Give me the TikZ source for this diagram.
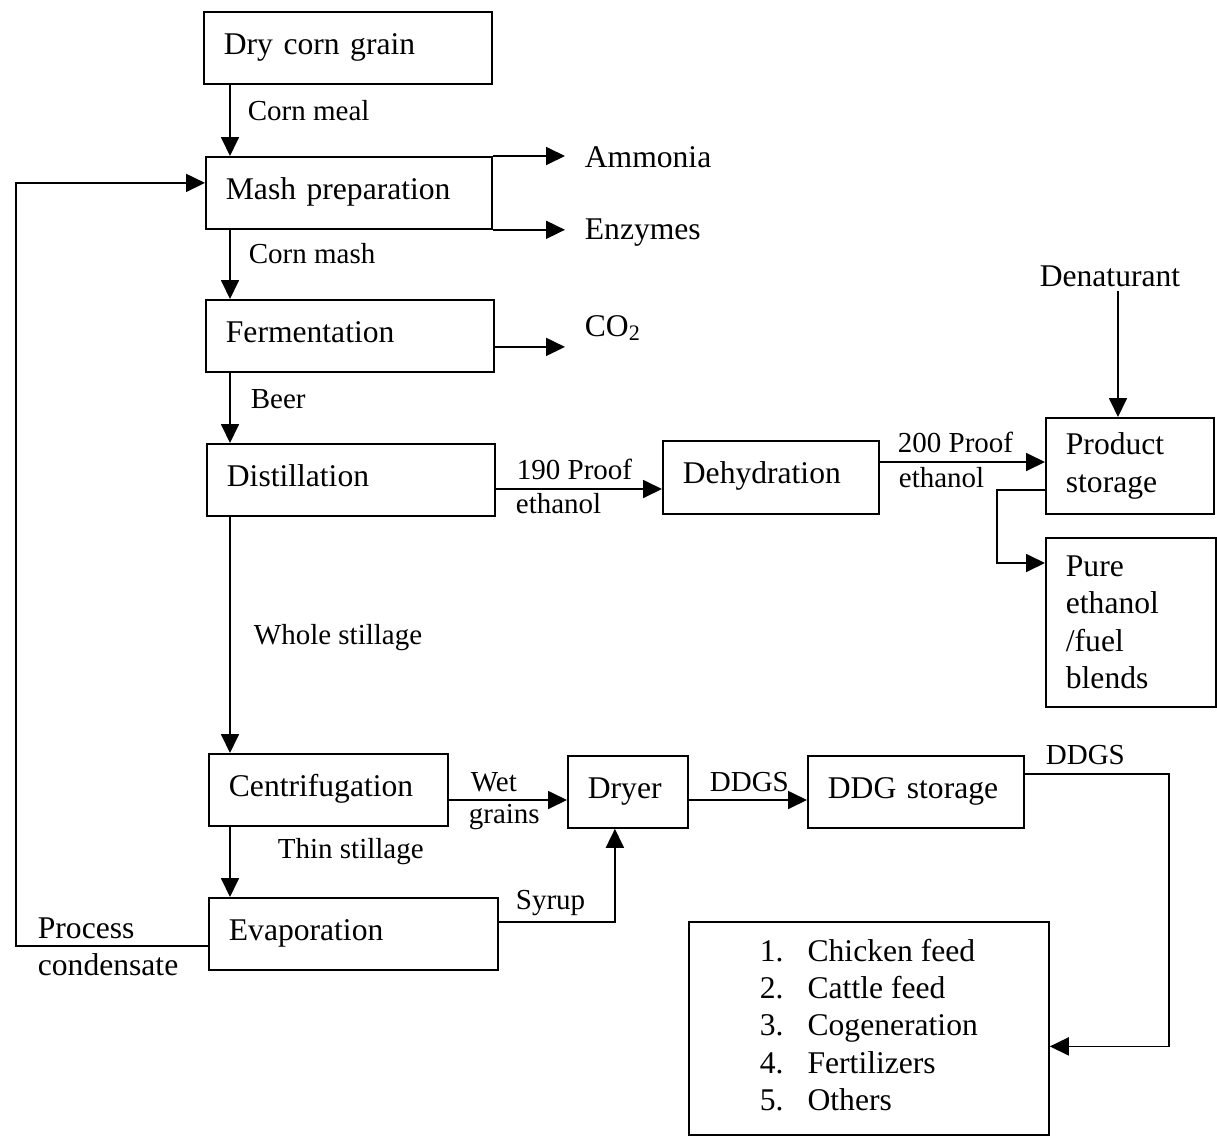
\documentclass[tikz,border=0pt]{standalone}
\usepackage{fontspec}
\setmainfont{Liberation Serif}
\usetikzlibrary{arrows.meta}
\newcommand{\boxfont}{\fontsize{15.8}{18.7}\selectfont}
\newcommand{\labfont}{\fontsize{14.5}{17}\selectfont}
\begin{document}
\begin{tikzpicture}[x=0.5pt,y=-0.5pt,>={Triangle[length=9.5pt,width=9pt]},line width=0.9pt,
 stage/.style={draw,anchor=north west,align=left,inner xsep=10pt,inner ysep=0pt,minimum height=36pt,font=\boxfont,text width=#1},
 oneline/.style={text height=11pt,text depth=4.6pt},
 lab/.style={anchor=west,inner sep=0pt,font=\labfont},
 outlab/.style={anchor=west,inner sep=0pt,font=\boxfont}]
\useasboundingbox (0,0) rectangle (1217,1136);
\coordinate (spine) at (230,0);
% main column
\node[stage=124pt,oneline] (dry) at (203,11) {Dry corn grain};
\node[stage=123pt,oneline] (mash) at (205,156) {Mash preparation};
\node[stage=124pt,oneline] (ferm) at (205,299) {Fermentation};
\node[stage=124pt,oneline] (dist) at (206,443) {Distillation};
\node[stage=99.5pt,oneline] (centri) at (208,753) {Centrifugation};
\node[stage=124.5pt,oneline] (evap) at (208,897) {Evaporation};
\draw[->] (spine |- dry.south) -- (spine |- mash.north);
\draw[->] (spine |- mash.south) -- (spine |- ferm.north);
\draw[->] (spine |- ferm.south) -- (spine |- dist.north);
\draw[->] (spine |- dist.south) -- (spine |- centri.north);
\draw[->] (spine |- centri.south) -- (spine |- evap.north);
\node[lab] (meal) at (247,111) {Corn meal};
\node[lab] (cmash) at (248,254) {Corn mash};
\node[lab] (beer) at (250,399) {Beer};
\node[lab] (whole) at (253,638) {Whole stillage};
\node[lab] (thin) at (277,852) {Thin stillage};
% side streams
\node[outlab] (ammonia) at (584,157) {Ammonia};
\node[outlab] (enzymes) at (584,233) {Enzymes};
\node[outlab] (co2) at (584,328) {CO\textsubscript{2}};
\coordinate (co2in) at ([yshift=-5.5pt]ferm.east);
\draw[->,shorten >=9.5pt] (mash.north east) -- (mash.north east -| ammonia.west);
\draw[->,shorten >=9.5pt] (mash.south east) -- (mash.south east -| enzymes.west);
\draw[->,shorten >=9.5pt] (co2in) -- (co2in -| co2.west);
% ethanol line
\node[stage=88pt,oneline,minimum height=36.5pt] (dehy) at (662,440) {Dehydration};
\node[stage=64pt,minimum height=48pt] (prod) at (1045,417) {Product\\storage};
\node[stage=65pt,minimum height=84.5pt] (pure) at (1045,537) {Pure\\ethanol\\/fuel\\blends};
\node[font=\boxfont,inner sep=2pt] (denat) at (1110,276) {Denaturant};
\coordinate (proof190) at (0,489);
\coordinate (proof200) at (0,462);
\draw[->] (dist.east |- proof190) -- (dehy.west |- proof190);
\draw[->] (dehy.east |- proof200) -- (prod.west |- proof200);
\draw[->] ([xshift=4pt]denat.south) -- ([xshift=4pt]denat.south |- prod.north);
\draw[->] ([yshift=-12pt]prod.west) -- ++(-48,0) |- ([yshift=-13pt]pure.north west);
\node[lab] (p190) at (516,469) {190 Proof};
\node[lab] (e190) at (515,504) {ethanol};
\node[lab] (p200) at (897,442) {200 Proof};
\node[lab] (e200) at (898,478) {ethanol};
% co-products
\node[stage=40pt,oneline] (dryer) at (567,755) {Dryer};
\node[stage=88pt,oneline] (ddg) at (807,755) {DDG storage};
\node[draw,anchor=north west,minimum width=180pt,minimum height=106.5pt,inner sep=0pt,font=\boxfont] (uses) at (688,921)
 {\begin{tabular}{@{}l@{\hspace{12pt}}l@{}}
 1.&Chicken feed\\
 2.&Cattle feed\\
 3.&Cogeneration\\
 4.&Fertilizers\\
 5.&Others
 \end{tabular}};
\coordinate (grainrow) at (0,800);
\draw[->] (centri.east |- grainrow) -- (dryer.west |- grainrow);
\draw[->] (dryer.east |- grainrow) -- (ddg.west |- grainrow);
\draw[->] ([yshift=9pt]ddg.east) -- ++(144,0) |- ([yshift=-9pt]uses.east);
\draw[->] ([yshift=6pt]evap.east) -| ([xshift=-6.5pt]dryer.south);
\draw[->] ([yshift=-6pt]evap.west) -- ++(-192,0) |- ([yshift=5pt]mash.west);
\node[lab] (wet) at (470,782) {Wet};
\node[lab] (grains) at (468,817) {grains};
\node[lab] (ddgs1) at (709,782) {DDGS};
\node[lab] (ddgs2) at (1045,755) {DDGS};
\node[lab] (syrup) at (515,903) {Syrup};
\node[outlab] (process) at (37,928) {Process};
\node[outlab] (cond) at (37,965) {condensate};
\end{tikzpicture}
\end{document}
